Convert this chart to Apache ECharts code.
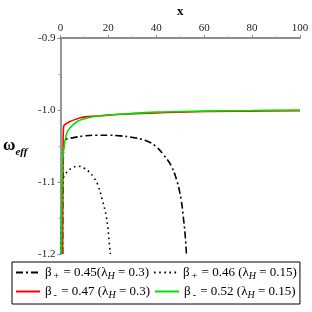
<!DOCTYPE html>
<html><head><meta charset="utf-8">
<script src="https://cdn.jsdelivr.net/npm/echarts@6/dist/echarts.min.js"></script>
<style>html,body{margin:0;padding:0;background:#fff}#c{width:312px;height:312px}</style>
</head><body><div id="c"></div>
<script>
// Series data [x, omega_eff]
const dashDotX = [0.9, 1.0, 1.2, 1.5, 2.1, 3, 6, 10, 15, 20, 25, 30, 36, 40, 43, 46, 48.5, 50.4, 51.3, 52, 52.6];
const dashDotY = [-1.2, -1.12, -1.065, -1.047, -1.041, -1.040, -1.038, -1.036, -1.035, -1.035, -1.036, -1.038, -1.043, -1.051, -1.062, -1.076, -1.097, -1.125, -1.149, -1.171, -1.2];
const dottedX = [0.3, 0.5, 0.8, 1.5, 2.8, 5, 7.5, 10, 12, 14, 15.5, 17.5, 19.2, 20, 20.8];
const dottedY = [-1.2, -1.15, -1.1, -1.092, -1.086, -1.08, -1.078, -1.081, -1.086, -1.094, -1.103, -1.125, -1.149, -1.171, -1.2];
const redX = [0.9, 1.0, 1.1, 1.2, 1.4, 2, 4, 8, 12, 17, 25, 40, 60, 80, 100];
const redY = [-1.2, -1.1, -1.05, -1.03, -1.022, -1.020, -1.016, -1.011, -1.009, -1.008, -1.006, -1.004, -1.002, -1.0015, -1.001];
const greenX = [0.4, 0.6, 0.8, 1.2, 2, 2.8, 4, 7, 10, 12.5, 17, 25, 40, 60, 80, 100];
const greenY = [-1.2, -1.12, -1.08, -1.058, -1.042, -1.031, -1.025, -1.016, -1.012, -1.010, -1.008, -1.006, -1.003, -1.0015, -1.0008, -1.0];
const seriesNames = ['b+045', 'b+046', 'b-047', 'b-052'];
const legendRich = {
  'b+045': '{t|β}{s|+}{t| = 0.45(λ}{si|H}{t| = 0.3)}',
  'b+046': '{t|β}{s|+}{t| = 0.46 (λ}{si|H}{t| = 0.15)}',
  'b-047': '{t|β}{s|-}{t| = 0.47 (λ}{si|H}{t| = 0.3)}',
  'b-052': '{t|β}{s|-}{t| = 0.52 (λ}{si|H}{t| = 0.15)}'
};
const xTicks = [0, 20, 40, 60, 80, 100];
const yTicks = [-1.2, -1.1, -1.0, -0.9];

const zip = (xs, ys) => xs.map((x, i) => [x, ys[i]]);
const FONT = '"Liberation Serif", "DejaVu Serif", serif';
const chart = echarts.init(document.getElementById('c'), null, {renderer: 'canvas'});
const axisCommon = {
  axisLine: {lineStyle: {color: '#8c8c8c', width: 1.8}},
  axisTick: {lineStyle: {color: '#8c8c8c'}, length: 3},
  minorTick: {show: true, splitNumber: 2, length: 2, lineStyle: {color: '#aaa'}},
  splitLine: {show: false},
  axisLabel: {color: '#222', fontFamily: FONT, fontSize: 11}
};
const rich = {
  t: {fontFamily: FONT, fontSize: 13, color: '#000'},
  s: {fontFamily: FONT, fontSize: 10, color: '#000', verticalAlign: 'bottom', padding: [7, 1, 0, 2]},
  si: {fontFamily: FONT, fontSize: 10, fontStyle: 'italic', color: '#000', verticalAlign: 'bottom', padding: [7, 0, 0, 0]}
};
chart.setOption({
  animation: false,
  grid: {left: 60, right: 12, top: 36, bottom: 58},
  xAxis: Object.assign({}, axisCommon, {
    type: 'value', position: 'top', min: 0, max: 100, interval: 20,
    name: 'x', nameLocation: 'middle', nameGap: 20,
    nameTextStyle: {fontFamily: FONT, fontSize: 13, fontWeight: 'bold', color: '#000'},
    axisLabel: Object.assign({}, axisCommon.axisLabel, {margin: 4, formatter: v => xTicks.includes(v) ? String(v) : ''})
  }),
  yAxis: Object.assign({}, axisCommon, {
    type: 'value', min: -1.2, max: -0.9, interval: 0.1,
    name: '{w|ω}{e|eff}', nameLocation: 'middle', nameGap: 33, nameRotate: 0,
    nameTextStyle: {rich: {
      w: {fontFamily: FONT, fontSize: 17, fontWeight: 'bold', color: '#000', padding: [0, 0, 0, 0]},
      e: {fontFamily: FONT, fontSize: 11, fontWeight: 'bold', fontStyle: 'italic', color: '#000', verticalAlign: 'bottom', padding: [12, 0, 0, 0]}
    }},
    axisLabel: Object.assign({}, axisCommon.axisLabel, {margin: 5, formatter: v => {
      const t = yTicks.find(k => Math.abs(k - v) < 1e-6);
      return t === undefined ? '' : t.toFixed(1);
    }})
  }),
  legend: {
    left: 12, top: 262, width: 294,
    orient: 'horizontal',
    borderColor: '#000', borderWidth: 1, borderRadius: 0,
    padding: [4, 3, 4, 3], itemGap: 4, itemWidth: 24, itemHeight: 14,
    itemStyle: {opacity: 0},
    data: seriesNames,
    formatter: n => legendRich[n],
    textStyle: {rich: rich}
  },
  series: [
    {name: seriesNames[0], type: 'line', smooth: 0.4, symbol: 'none', data: zip(dashDotX, dashDotY),
     lineStyle: {color: '#000', width: 1.6, type: [7, 3, 2, 3]}, itemStyle: {color: '#000'}},
    {name: seriesNames[1], type: 'line', smooth: 0.4, symbol: 'none', data: zip(dottedX, dottedY),
     lineStyle: {color: '#000', width: 1.6, type: [1.6, 3.5]}, itemStyle: {color: '#000'}},
    {name: seriesNames[2], type: 'line', smooth: 0.4, symbol: 'none', data: zip(redX, redY),
     lineStyle: {color: '#ff0000', width: 1.6}, itemStyle: {color: '#ff0000'}},
    {name: seriesNames[3], type: 'line', smooth: 0.4, symbol: 'none', data: zip(greenX, greenY),
     lineStyle: {color: '#00e000', width: 1.6}, itemStyle: {color: '#00e000'}}
  ]
});
</script></body></html>
